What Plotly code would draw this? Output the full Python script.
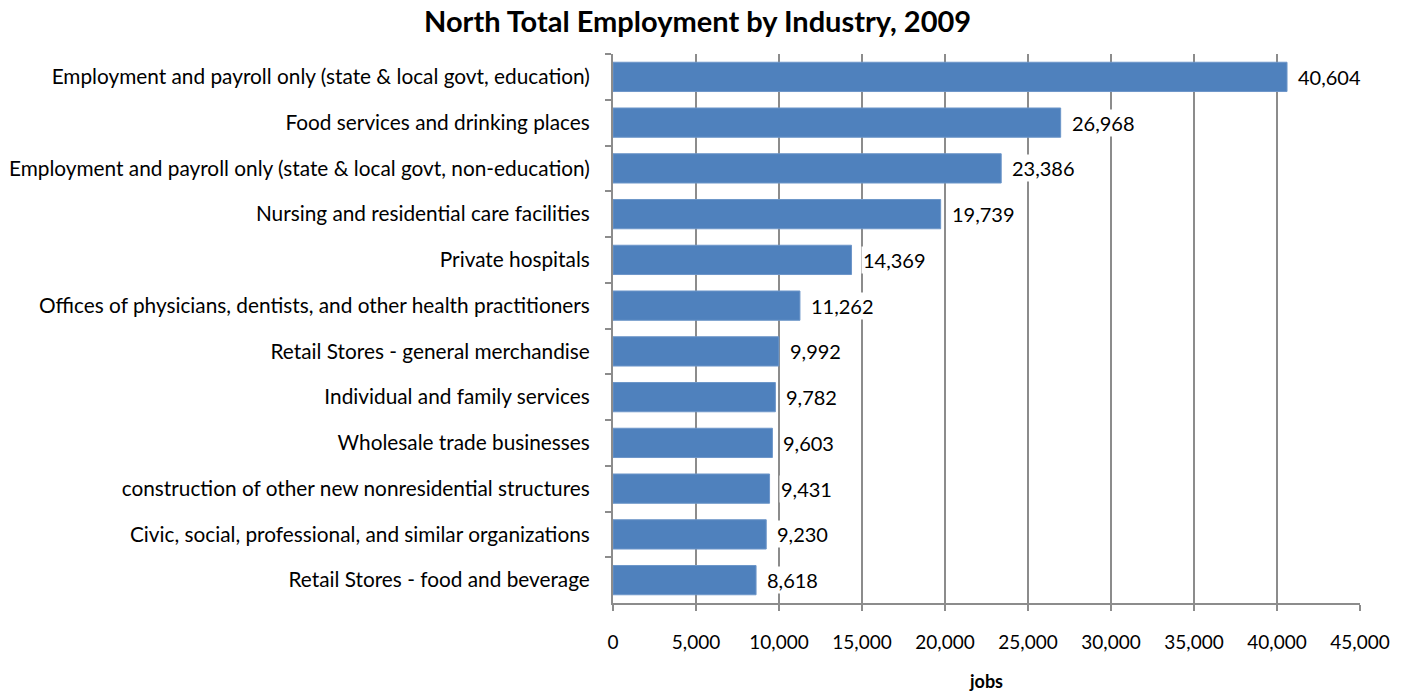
import plotly.graph_objects as go

industries = [
    "Employment and payroll only (state & local govt, education)",
    "Food services and drinking places",
    "Employment and payroll only (state & local govt, non-education)",
    "Nursing and residential care facilities",
    "Private hospitals",
    "Offices of physicians, dentists, and other health practitioners",
    "Retail Stores - general merchandise",
    "Individual and family services",
    "Wholesale trade businesses",
    "construction of other new nonresidential structures",
    "Civic, social, professional, and similar organizations",
    "Retail Stores - food and beverage",
]
jobs = [40604, 26968, 23386, 19739, 14369, 11262, 9992, 9782, 9603, 9431, 9230, 8618]

x_ticks = [0, 5000, 10000, 15000, 20000, 25000, 30000, 35000, 40000, 45000]

FONT = "Lato"
TEXT = "#000000"
GRID = "#8c8c8c"

fig = go.Figure(
    go.Bar(
        x=jobs,
        y=industries,
        orientation="h",
        marker=dict(color="#4F81BD", line=dict(color="#6d96c9", width=1)),
        hoverinfo="x+y",
    )
)

# value labels with a white box so they sit over the gridlines
for name, v in zip(industries, jobs):
    fig.add_annotation(
        x=v, y=name, text=f"{v:,}", showarrow=False,
        xanchor="left", xshift=9, bgcolor="white", borderpad=1,
        font=dict(family=FONT, size=20, color=TEXT),
    )

fig.update_layout(
    width=1405, height=694,
    margin=dict(l=613, r=45, t=54, b=91),
    paper_bgcolor="white", plot_bgcolor="white",
    bargap=0.36,
    showlegend=False,
    title=dict(
        text="<b>North Total Employment by Industry, 2009</b>",
        x=0.4965, xanchor="center", y=0.968, yanchor="middle",
        font=dict(family=FONT, size=29, color=TEXT),
    ),
    font=dict(family=FONT, size=19, color=TEXT),
)

fig.update_xaxes(
    automargin=False,
    range=[0, 45000], tickvals=x_ticks, tickformat=",",
    showgrid=True, gridcolor=GRID, gridwidth=2,
    showline=True, linecolor=GRID, linewidth=2,
    ticks="outside", ticklen=6, tickcolor=GRID, tickwidth=2,
    ticklabelstandoff=15,
    zeroline=False,
    title=dict(text="<b>jobs</b>", font=dict(family=FONT, size=18, color=TEXT), standoff=24),
    tickfont=dict(family=FONT, size=19, color=TEXT),
)
fig.update_yaxes(
    automargin=False,
    autorange="reversed",
    showline=True, linecolor=GRID, linewidth=2,
    ticks="outside", ticklen=6, tickcolor=GRID, tickwidth=2,
    tickson="boundaries", showgrid=False,
    ticklabelstandoff=17,
    tickfont=dict(family=FONT, size=20.8, color=TEXT),
)

fig.write_html("out.html")
